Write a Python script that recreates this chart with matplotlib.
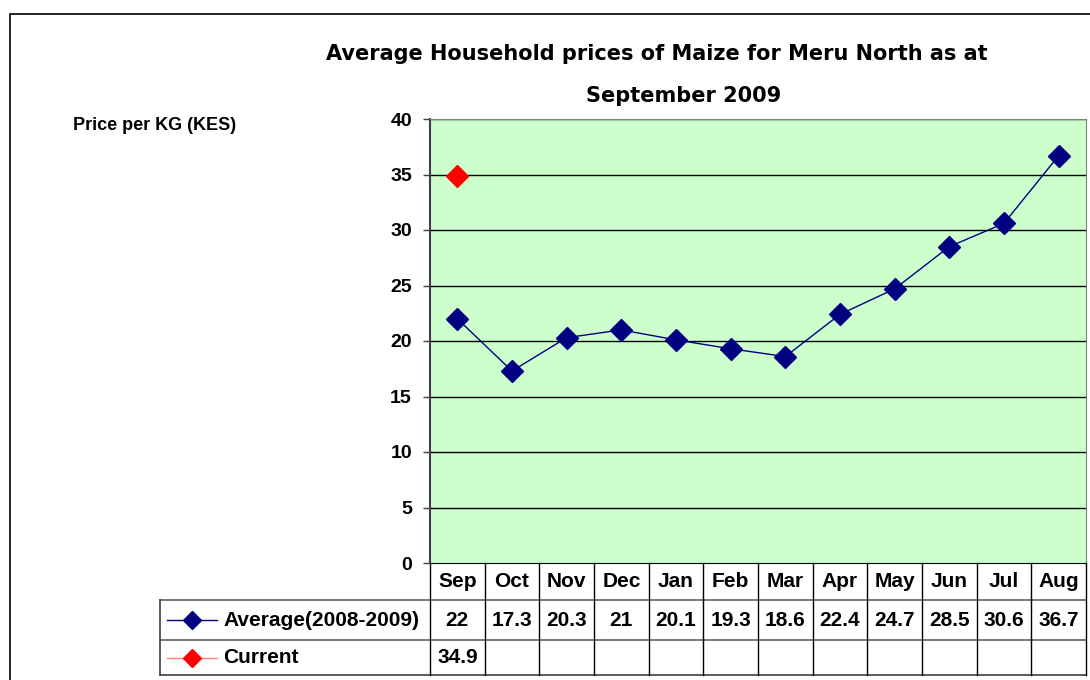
######
# Maize price chart - Meru North, September 2009
######

import matplotlib
matplotlib.use("Agg")
import matplotlib.pyplot as plt
from matplotlib.lines import Line2D
from matplotlib.patches import Rectangle

# Data
months = ['Sep', 'Oct', 'Nov', 'Dec', 'Jan', 'Feb', 'Mar', 'Apr', 'May', 'Jun', 'Jul', 'Aug']
average_prices = [22, 17.3, 20.3, 21, 20.1, 19.3, 18.6, 22.4, 24.7, 28.5, 30.6, 36.7]
average_labels = ['22', '17.3', '20.3', '21', '20.1', '19.3', '18.6', '22.4', '24.7', '28.5', '30.6', '36.7']
current_prices = [34.9]
current_labels = ['34.9']
series_names = ['Average(2008-2009)', 'Current']
y_ticks = [0, 5, 10, 15, 20, 25, 30, 35, 40]

navy = '#000080'
red = '#FF0000'

plt.rcParams['font.family'] = ['Liberation Sans', 'DejaVu Sans']

W, H = 1090, 680
fig = plt.figure(figsize=(W / 100, H / 100), dpi=100)

# Plot area in pixels: left 430, right 1086, top 119, bottom 563
ax = fig.add_axes([430 / W, 1 - 563 / H, 656 / W, 444 / H])
ax.set_facecolor('#CCFFCC')

x = list(range(len(months)))
ax.plot(x, average_prices, color=navy, linewidth=1, marker='D', markersize=11,
        markerfacecolor=navy, markeredgecolor=navy, zorder=3)
ax.plot(x[:len(current_prices)], current_prices, linestyle='none', marker='D', markersize=11,
        markerfacecolor=red, markeredgecolor=red, zorder=3)

ax.set_xlim(-0.5, len(months) - 0.5)
ax.set_ylim(0, 40)
ax.set_yticks(y_ticks)
ax.set_yticklabels([str(t) for t in y_ticks], fontsize=14, fontweight='bold')
ax.tick_params(axis='y', length=5, width=1, color='#404040', pad=8)
ax.set_xticks([])
for yv in y_ticks[1:]:
    ax.axhline(yv, color='black', linewidth=1, zorder=1)
ax.spines['left'].set_color('#404040')
ax.spines['left'].set_linewidth(1.5)
ax.spines['top'].set_color('#808080')
ax.spines['right'].set_color('#808080')
ax.spines['bottom'].set_color('black')

# Data table below the plot
tr = ax.get_xaxis_transform()
col_w = 656 / 12  # pixels per category


def px_to_x(px):
    return (px - 430) / col_w - 0.5


row_edges = [0, -37 / 444, -77 / 444, -112 / 444]
left_x = px_to_x(160)
right_x = len(months) - 0.5

# horizontal lines
ax.add_line(Line2D([left_x, right_x], [row_edges[1]] * 2, transform=tr, color='#606060', lw=1.2, clip_on=False))
ax.add_line(Line2D([left_x, right_x], [row_edges[2]] * 2, transform=tr, color='#606060', lw=1.2, clip_on=False))
ax.add_line(Line2D([left_x, right_x], [row_edges[3]] * 2, transform=tr, color='#404040', lw=1.2, clip_on=False))
# vertical lines
ax.add_line(Line2D([left_x, left_x], [row_edges[1], row_edges[3]], transform=tr, color='#404040', lw=1.2, clip_on=False))
for i in range(len(months) + 1):
    xv = i - 0.5
    ax.add_line(Line2D([xv, xv], [row_edges[0], row_edges[3]], transform=tr, color='black', lw=1, clip_on=False))

mid = [(row_edges[i] + row_edges[i + 1]) / 2 for i in range(3)]
table_fs = 15
for i, m in enumerate(months):
    ax.text(i, mid[0], m, transform=tr, ha='center', va='center', fontsize=table_fs, fontweight='bold')
for i, lab in enumerate(average_labels):
    ax.text(i, mid[1], lab, transform=tr, ha='center', va='center', fontsize=table_fs, fontweight='bold')
for i, lab in enumerate(current_labels):
    ax.text(i, mid[2], lab, transform=tr, ha='center', va='center', fontsize=table_fs, fontweight='bold')

# legend keys inside the table
key_colors = [(navy, navy), ('#FF8080', red)]
for row, (name, (lc, mc)) in enumerate(zip(series_names, key_colors)):
    yv = mid[row + 1]
    ax.add_line(Line2D([px_to_x(167), px_to_x(217)], [yv, yv], transform=tr, color=lc, lw=1, clip_on=False))
    ax.add_line(Line2D([px_to_x(192)], [yv], transform=tr, marker='D', markersize=9, color=mc,
                       linestyle='none', clip_on=False))
    ax.text(px_to_x(223), yv, name, transform=tr, ha='left', va='center', fontsize=table_fs, fontweight='bold')

# Titles and axis label
fig.text(657 / W, 1 - 54 / H, 'Average Household prices of Maize for Meru North as at',
         ha='center', va='center', fontsize=15, fontweight='bold', family=['DejaVu Sans'])
fig.text(684 / W, 1 - 96 / H, 'September 2009',
         ha='center', va='center', fontsize=15, fontweight='bold', family=['DejaVu Sans'])
fig.text(73 / W, 1 - 126 / H, 'Price per KG (KES)', ha='left', va='center', fontsize=13, fontweight='bold')

# Outer chart border
fig.patches.append(Rectangle((10 / W, -0.1), 1.2, 1.1 - 14 / H, transform=fig.transFigure,
                             fill=False, edgecolor='black', linewidth=1.2, clip_on=False))

fig.savefig('out.png', dpi=100)
